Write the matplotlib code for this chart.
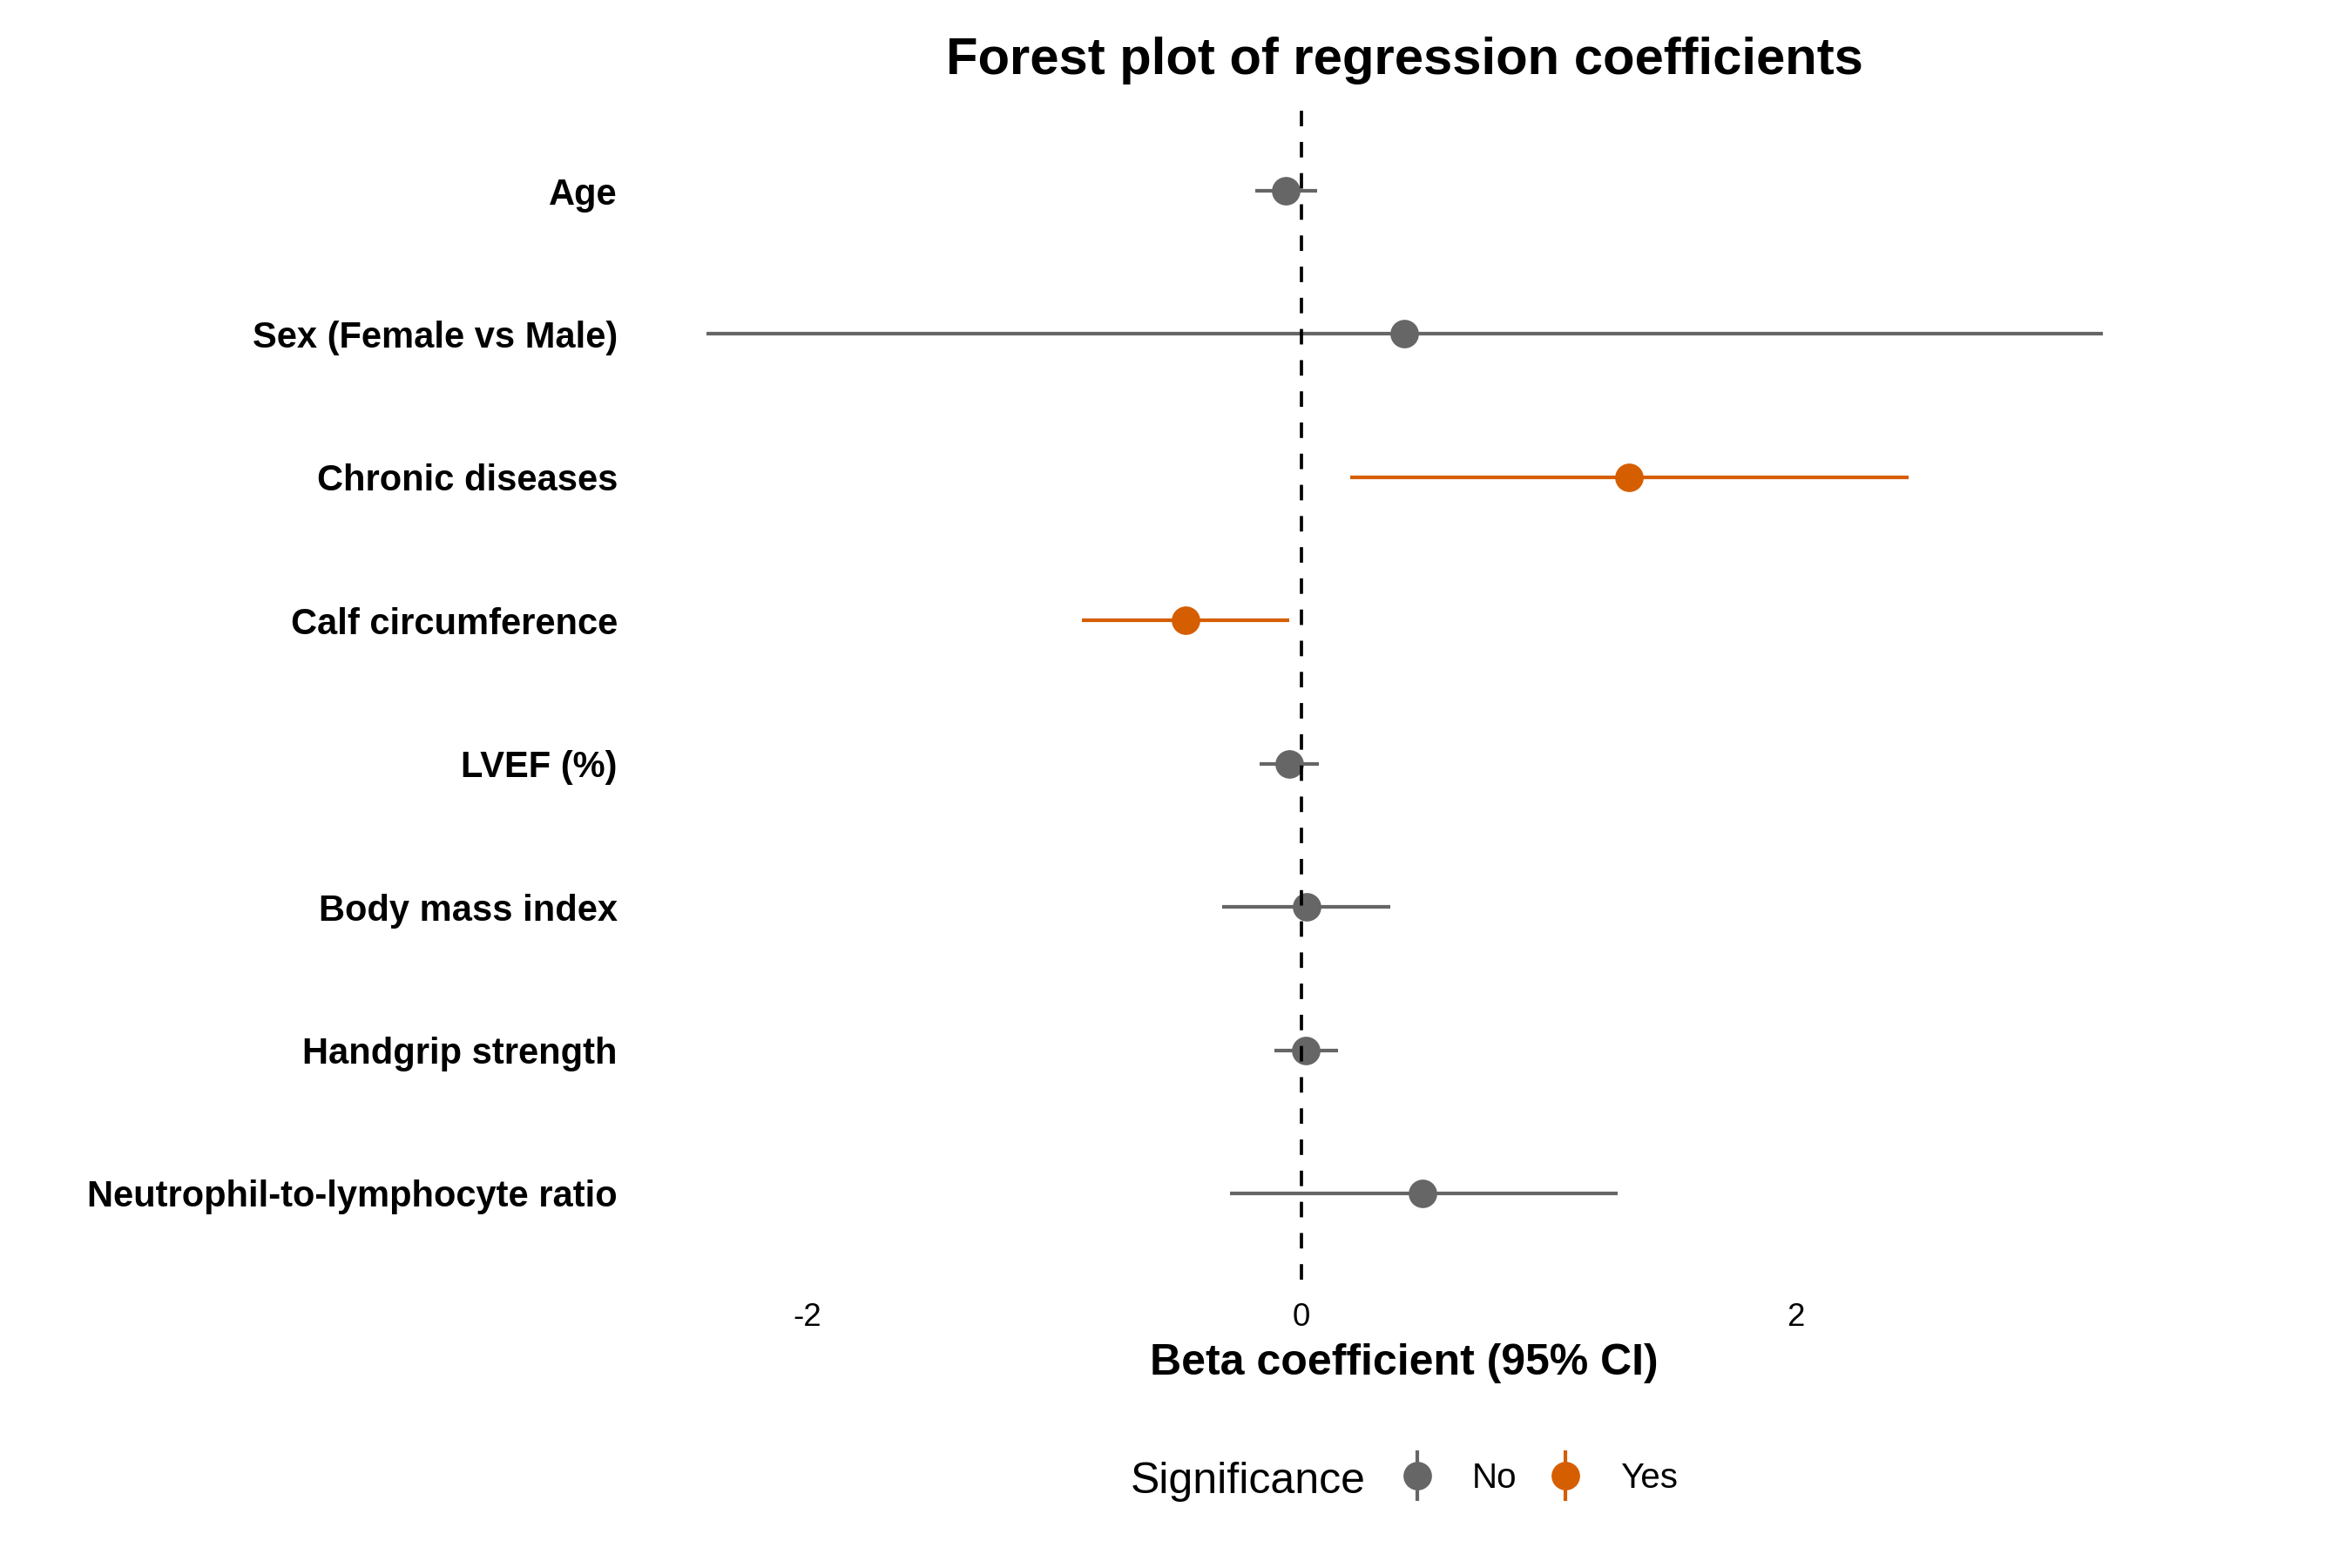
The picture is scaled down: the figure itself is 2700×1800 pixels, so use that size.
import matplotlib
matplotlib.use("Agg")
import matplotlib.pyplot as plt
from matplotlib.lines import Line2D
from matplotlib.legend_handler import HandlerTuple
import numpy as np

# ---- data ----
variables = [
    "Age",
    "Sex (Female vs Male)",
    "Chronic diseases",
    "Calf circumference",
    "LVEF (%)",
    "Body mass index",
    "Handgrip strength",
    "Neutrophil-to-lymphocyte ratio",
]
estimate = [-0.063, 0.416, 1.325, -0.470, -0.049, 0.020, 0.018, 0.490]
ci_low = [-0.187, -2.410, 0.197, -0.890, -0.170, -0.320, -0.110, -0.290]
ci_high = [0.063, 3.245, 2.460, -0.049, 0.070, 0.360, 0.150, 1.280]
significant = ["No", "No", "Yes", "Yes", "No", "No", "No", "No"]
x_ticks = [-2, 0, 2]
levels = ["No", "Yes"]
palette = {"No": "#666666", "Yes": "#D55E00"}

plt.rcParams["font.family"] = ["Liberation Sans", "DejaVu Sans"]

fig = plt.figure(figsize=(9, 6), dpi=300)
ax = fig.add_axes([0.2706, 0.1841, 0.6531, 0.749])

n = len(variables)
ypos = np.arange(n, 0, -1)
est = np.array(estimate)
lo = np.array(ci_low)
hi = np.array(ci_high)
sig = np.array(significant)

for lev in levels:
    m = sig == lev
    ax.errorbar(est[m], ypos[m], xerr=[est[m] - lo[m], hi[m] - est[m]],
                fmt="o", color=palette[lev], ecolor=palette[lev],
                elinewidth=1.0, capsize=0, markersize=7.85,
                markeredgewidth=0, zorder=2)

ax.axvline(0, color="black", linewidth=0.89, linestyle=(0, (4.8, 4.85)), zorder=3)

span = hi.max() - lo.min()
ax.set_xlim(lo.min() - 0.05 * span, hi.max() + 0.05 * span)
ax.set_ylim(0.4, n + 0.6)
ax.set_xticks(x_ticks)
ax.set_xticklabels([str(t) for t in x_ticks])
ax.set_yticks(ypos)
ax.set_yticklabels(variables, fontweight="bold", fontsize=10.0)
ax.tick_params(axis="x", length=0, pad=6.3, labelsize=8.8)
ax.tick_params(axis="y", length=0, pad=5.2)
for s in ax.spines.values():
    s.set_visible(False)
ax.grid(False)

ax.set_xlabel("Beta coefficient (95% CI)", fontsize=12.0, fontweight="bold")
ax.xaxis.set_label_coords(0.5, -0.0811)
ax.xaxis.label.set_va("baseline")

ax.set_title("Forest plot of regression coefficients", fontsize=14.35,
             fontweight="bold", y=1.0263, pad=0, va="baseline")

# legend
handles = []
for lev in levels:
    vl = Line2D([], [], marker="|", markersize=13.7, markeredgewidth=1.0,
                color=palette[lev], linestyle="none")
    pt = Line2D([], [], marker="o", markersize=7.85, markeredgewidth=0,
                color=palette[lev], linestyle="none")
    handles.append((vl, pt))
fig.legend(handles, levels, handler_map={tuple: HandlerTuple(ndivide=1, pad=0)},
           loc="center left", bbox_to_anchor=(1603 / 2700, 1 - 1697 / 1800),
           ncol=2, frameon=False, fontsize=9.7, handlelength=1.2,
           handletextpad=0.95, columnspacing=0.78, borderpad=0,
           borderaxespad=0)
fig.text(1298 / 2700, 1 - 1714 / 1800, "Significance", fontsize=12.0,
         va="baseline", ha="left")

fig.savefig("out.png", dpi=300, facecolor="white")
